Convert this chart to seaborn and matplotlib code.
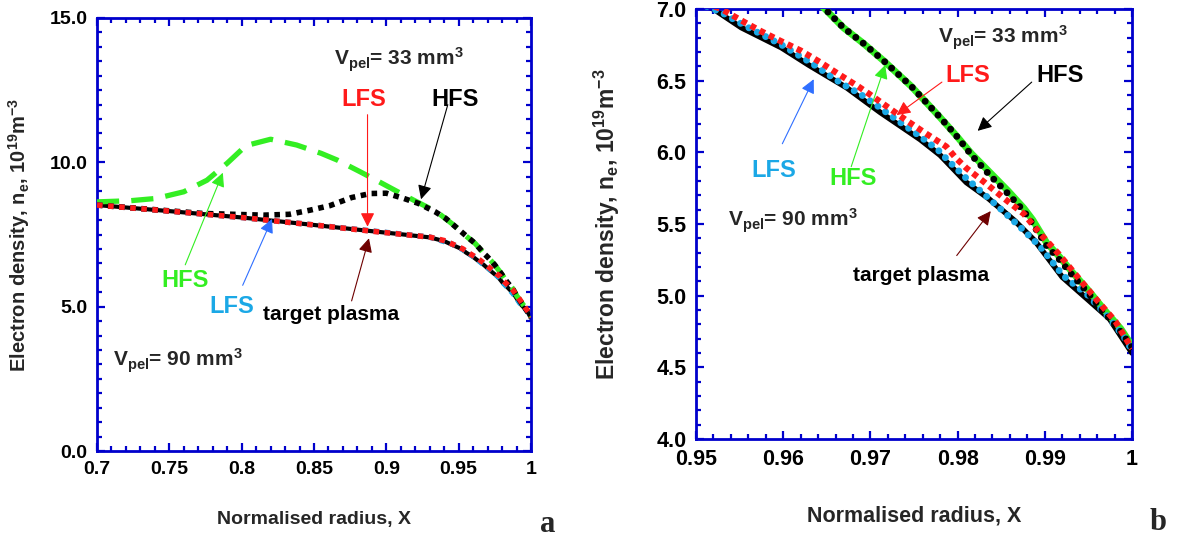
import matplotlib
matplotlib.use("Agg")
import matplotlib.pyplot as plt
import numpy as np
import pandas as pd
import seaborn as sns
from matplotlib.ticker import MultipleLocator, FormatStrFormatter

# ---------------------------------------------------------------- data
# target plasma (solid black)
x_target = [0.700, 0.750, 0.800, 0.850, 0.889, 0.910, 0.930, 0.940, 0.946, 0.952,
            0.9552, 0.9598, 0.9629, 0.9673, 0.9711, 0.9757, 0.9780, 0.9810, 0.9835,
            0.9866, 0.9889, 0.9920, 0.9948, 0.9974, 1.000]
n_target = [8.52, 8.31, 8.09, 7.83, 7.62, 7.51, 7.40, 7.27, 7.13, 7.00,
            6.87, 6.73, 6.61, 6.45, 6.28, 6.09, 5.98, 5.79, 5.68,
            5.52, 5.38, 5.13, 4.98, 4.84, 4.60]

# LFS, V_pel = 90 mm^3 (light blue dots)
x_lfs90 = [0.700, 0.750, 0.800, 0.850, 0.900, 0.930, 0.945, 0.9531, 0.9554, 0.9598,
           0.9633, 0.9667, 0.9690, 0.9709, 0.9734, 0.9755, 0.9777, 0.9788, 0.9808,
           0.9830, 0.9852, 0.9875, 0.9895, 0.9921, 0.9950, 0.9970, 0.9990, 1.000]
n_lfs90 = [8.52, 8.31, 8.09, 7.83, 7.57, 7.41, 7.18, 6.97, 6.89, 6.75,
           6.62, 6.48, 6.40, 6.32, 6.21, 6.12, 6.02, 5.95, 5.83,
           5.71, 5.59, 5.46, 5.34, 5.14, 5.00, 4.87, 4.72, 4.62]

# HFS, V_pel = 90 mm^3 (green)
x_hfs90 = [0.700, 0.723, 0.741, 0.760, 0.776, 0.790, 0.803, 0.820, 0.838, 0.855,
           0.866, 0.882, 0.896, 0.909, 0.920, 0.935, 0.946, 0.955, 0.9614, 0.9648,
           0.9669, 0.9692, 0.9715, 0.9747, 0.9779, 0.9798, 0.9816, 0.9837, 0.9858,
           0.9876, 0.9886, 0.9902, 0.9917, 0.9932, 0.9951, 0.9967, 0.9987, 1.000]
n_hfs90 = [8.63, 8.67, 8.75, 8.98, 9.38, 9.97, 10.58, 10.80, 10.60, 10.31,
           10.08, 9.67, 9.30, 8.95, 8.66, 8.28, 7.85, 7.45, 7.19, 7.00,
           6.87, 6.76, 6.64, 6.46, 6.25, 6.12, 5.99, 5.86, 5.73,
           5.61, 5.53, 5.37, 5.27, 5.16, 5.03, 4.91, 4.77, 4.65]

# LFS, V_pel = 33 mm^3 (red dots)
x_lfs33 = [0.700, 0.750, 0.800, 0.850, 0.889, 0.910, 0.930, 0.940, 0.946, 0.9529,
           0.9552, 0.9573, 0.9596, 0.9620, 0.9642, 0.9665, 0.9686, 0.9698, 0.9742,
           0.9764, 0.9787, 0.9798, 0.9810, 0.9831, 0.9853, 0.9876, 0.9895, 0.9916,
           0.9939, 0.9961, 0.9981, 1.000]
n_lfs33 = [8.52, 8.31, 8.09, 7.83, 7.62, 7.51, 7.41, 7.29, 7.16, 7.00,
           6.92, 6.85, 6.78, 6.71, 6.63, 6.54, 6.46, 6.41, 6.22,
           6.13, 6.04, 5.96, 5.89, 5.79, 5.68, 5.57, 5.43, 5.29,
           5.12, 4.96, 4.82, 4.63]

# HFS, V_pel = 33 mm^3 (black dots)
x_hfs33 = [0.700, 0.730, 0.773, 0.815, 0.833, 0.847, 0.861, 0.876, 0.889, 0.900,
           0.912, 0.922, 0.934, 0.941, 0.948, 0.9545, 0.9614, 0.9648, 0.9669, 0.9692,
           0.9715, 0.9747, 0.9779, 0.9798, 0.9816, 0.9837, 0.9858, 0.9876, 0.9886,
           0.9902, 0.9917, 0.9932, 0.9951, 0.9967, 0.9987, 1.000]
n_hfs33 = [8.52, 8.40, 8.23, 8.17, 8.20, 8.34, 8.50, 8.78, 8.92, 8.93,
           8.75, 8.58, 8.28, 8.06, 7.76, 7.48, 7.19, 7.00, 6.87, 6.76,
           6.64, 6.46, 6.25, 6.12, 5.98, 5.84, 5.71, 5.59, 5.50,
           5.35, 5.25, 5.14, 5.01, 4.89, 4.75, 4.64]

panel_a_xlim, panel_a_ylim = (0.7, 1.0), (0.0, 15.0)
panel_b_xlim, panel_b_ylim = (0.95, 1.0), (4.0, 7.0)

# ---------------------------------------------------------------- style
sns.set_style("ticks")
plt.rcParams["font.family"] = ["Liberation Sans", "DejaVu Sans"]
plt.rcParams["font.weight"] = "bold"
plt.rcParams["mathtext.fontset"] = "custom"
plt.rcParams["mathtext.rm"] = "Liberation Sans:bold"
plt.rcParams["mathtext.it"] = "Liberation Sans:bold"
plt.rcParams["mathtext.bf"] = "Liberation Sans:bold"
plt.rcParams["mathtext.default"] = "rm"

FRAME = "#0000cc"
GREEN = "#33ee22"
RED = "#ff1a1a"
CYAN = "#1ba8e6"
ARROW_BLUE = "#2f6fff"
MAROON = "#6e0000"

W, H = 1179, 542
fig = plt.figure(figsize=(W / 100, H / 100), dpi=100)
ax_a = fig.add_axes([97 / W, (H - 451) / H, 434 / W, 433 / H])
ax_b = fig.add_axes([696 / W, (H - 439) / H, 436 / W, 430 / H])


def frame(ax, xlim, ylim, xmaj, xmin, ymaj, ymin, tick_fs, xlab_fs, ylab_fs, xpad):
    ax.set_xlim(*xlim)
    ax.set_ylim(*ylim)
    ax.xaxis.set_major_locator(MultipleLocator(xmaj))
    ax.xaxis.set_minor_locator(MultipleLocator(xmin))
    ax.yaxis.set_major_locator(MultipleLocator(ymaj))
    ax.yaxis.set_minor_locator(MultipleLocator(ymin))
    ax.xaxis.set_major_formatter(FormatStrFormatter("%g"))
    ax.yaxis.set_major_formatter(FormatStrFormatter("%.1f"))
    for s in ax.spines.values():
        s.set_color(FRAME)
        s.set_linewidth(2.0)
        s.set_visible(True)
    ax.tick_params(which="both", direction="in", top=True, right=True,
                   color=FRAME, width=1.6, labelsize=tick_fs, labelcolor="black")
    ax.tick_params(which="major", length=6, pad=7)
    ax.tick_params(which="minor", length=3.5)
    ax.set_xlabel("Normalised radius, X", fontsize=xlab_fs, fontweight="bold", labelpad=xpad)
    ax.set_ylabel(r"Electron density, n$_{\mathregular{e}}$, 10$^{\mathregular{19}}$m$^{\mathregular{-3}}$",
                  fontsize=ylab_fs, fontweight="bold")
    for lab in ax.get_xticklabels() + ax.get_yticklabels():
        lab.set_fontweight("bold")


def curves(ax, panel):
    if panel == "a":
        sns.lineplot(x=x_target, y=n_target, ax=ax, color="black", lw=3.0,
                     sort=False, estimator=None, zorder=2)
        sns.lineplot(x=x_hfs90, y=n_hfs90, ax=ax, color=GREEN, lw=3.8,
                     linestyle=(0, (4.2, 2.3)), sort=False, estimator=None, zorder=3)
        dot = dict(lw=4.0, linestyle=(0, (1, 1)), dash_capstyle="butt")
        sns.lineplot(x=x_lfs90, y=n_lfs90, ax=ax, color=CYAN, sort=False,
                     estimator=None, zorder=4, **dot)
        sns.lineplot(x=x_hfs33, y=n_hfs33, ax=ax, color="black", sort=False,
                     estimator=None, zorder=5, **dot)
        sns.lineplot(x=x_lfs33, y=n_lfs33, ax=ax, color=RED, sort=False,
                     estimator=None, zorder=6, **dot)
    else:
        sns.lineplot(x=x_target, y=n_target, ax=ax, color="black", lw=4.0,
                     sort=False, estimator=None, zorder=2)
        sns.lineplot(x=x_hfs90, y=n_hfs90, ax=ax, color=GREEN, lw=5.0,
                     sort=False, estimator=None, zorder=3)
        rnd = dict(lw=5.0, linestyle=(0, (0.01, 1.35)), dash_capstyle="round")
        sns.lineplot(x=x_lfs90, y=n_lfs90, ax=ax, color=CYAN, sort=False,
                     estimator=None, zorder=4, **rnd)
        sns.lineplot(x=x_hfs33, y=n_hfs33, ax=ax, color="black", sort=False,
                     estimator=None, zorder=5, **rnd)
        sns.lineplot(x=x_lfs33, y=n_lfs33, ax=ax, color=RED, lw=4.5,
                     linestyle=(0, (0.9, 0.75)), dash_capstyle="butt",
                     sort=False, estimator=None, zorder=6)


def arrow(ax, tail, tip, color):
    ax.annotate("", xy=tip, xytext=tail, zorder=8,
                arrowprops=dict(arrowstyle="-|>,head_length=0.6,head_width=0.3",
                                color=color, lw=0.8, mutation_scale=14,
                                shrinkA=0, shrinkB=0))


def vpel(ax, x, y, value):
    ax.text(x, y, r"V$_{\mathregular{pel}}$= " + value + r" mm$^{\mathregular{3}}$",
            fontsize=15, fontweight="bold", ha="left", va="baseline", zorder=9)


# ---------------------------------------------------------------- panel a
curves(ax_a, "a")
frame(ax_a, panel_a_xlim, panel_a_ylim, 0.05, 0.01, 5.0, 0.5, 14, 14, 14.5, 24)
ax_a.yaxis.set_label_coords(-0.15, 0.5)

vpel(ax_a, 0.864, 13.35, "33")
vpel(ax_a, 0.711, 2.93, "90")
ax_a.text(0.8845, 11.95, "LFS", color=RED, fontsize=17, fontweight="bold",
          ha="center", va="baseline")
ax_a.text(0.9475, 11.95, "HFS", color="black", fontsize=17, fontweight="bold",
          ha="center", va="baseline")
ax_a.text(0.761, 5.68, "HFS", color=GREEN, fontsize=17, fontweight="bold",
          ha="center", va="baseline")
ax_a.text(0.793, 4.78, "LFS", color=CYAN, fontsize=17, fontweight="bold",
          ha="center", va="baseline")
ax_a.text(0.815, 4.54, "target plasma", color="black", fontsize=15, fontweight="bold",
          ha="left", va="baseline")
arrow(ax_a, (0.887, 11.65), (0.887, 7.77), RED)
arrow(ax_a, (0.9425, 12.0), (0.924, 8.72), "black")
arrow(ax_a, (0.761, 6.45), (0.787, 9.64), GREEN)
arrow(ax_a, (0.8007, 5.74), (0.821, 8.04), ARROW_BLUE)
arrow(ax_a, (0.876, 5.2), (0.888, 7.37), MAROON)

# ---------------------------------------------------------------- panel b
curves(ax_b, "b")
frame(ax_b, panel_b_xlim, panel_b_ylim, 0.01, 0.002, 0.5, 0.1, 15.5, 15.5, 16.5, 26)
ax_b.yaxis.set_label_coords(-0.17, 0.5)

vpel(ax_b, 0.9778, 6.76, "33")
vpel(ax_b, 0.9537, 5.48, "90")
ax_b.text(0.9812, 6.49, "LFS", color=RED, fontsize=17, fontweight="bold",
          ha="center", va="baseline")
ax_b.text(0.9917, 6.49, "HFS", color="black", fontsize=17, fontweight="bold",
          ha="center", va="baseline")
ax_b.text(0.9589, 5.83, "LFS", color=CYAN, fontsize=17, fontweight="bold",
          ha="center", va="baseline")
ax_b.text(0.968, 5.77, "HFS", color=GREEN, fontsize=17, fontweight="bold",
          ha="center", va="baseline")
ax_b.text(0.968, 5.10, "target plasma", color="black", fontsize=15, fontweight="bold",
          ha="left", va="baseline")
arrow(ax_b, (0.9782, 6.49), (0.9730, 6.26), RED)
arrow(ax_b, (0.9885, 6.49), (0.9823, 6.15), "black")
arrow(ax_b, (0.9599, 6.06), (0.9635, 6.51), ARROW_BLUE)
arrow(ax_b, (0.9678, 5.90), (0.9717, 6.61), GREEN)
arrow(ax_b, (0.9799, 5.28), (0.9838, 5.59), MAROON)

# panel letters
fig.text(548 / W, 1 - 525 / H, "a", fontsize=22, fontweight="bold",
         family=["Liberation Serif", "DejaVu Serif"], ha="center", va="center")
fig.text(1158 / W, 1 - 522 / H, "b", fontsize=22, fontweight="bold",
         family=["Liberation Serif", "DejaVu Serif"], ha="center", va="center")

fig.savefig("out.png", dpi=100)
